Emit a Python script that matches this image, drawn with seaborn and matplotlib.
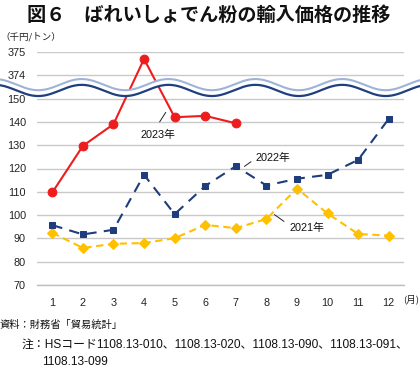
import numpy as np
import pandas as pd
import matplotlib
matplotlib.use("Agg")
import matplotlib.pyplot as plt
import seaborn as sns

# ---- data ----
months = [1, 2, 3, 4, 5, 6, 7, 8, 9, 10, 11, 12]
y2021 = [92.4, 85.9, 87.7, 88.0, 90.1, 95.8, 94.4, 98.3, 111.4, 100.7, 91.9, 91.2]
y2022 = [95.7, 91.7, 93.7, 117.3, 100.4, 112.5, 121.0, 112.7, 115.6, 117.3, 123.7, 141.3]
months_2023 = [1, 2, 3, 4, 5, 6, 7]
y2023 = [109.7, 129.7, 139.0, 374.7, 142.0, 142.6, 139.4]
ytick_labels = ["70", "80", "90", "100", "110", "120", "130", "140", "150", "374", "375"]
xtick_labels = [str(m) for m in months]

# broken-axis mapping: values >= 370 are drawn above the break
def brk(v):
    return 160 + (v - 374) * 10 if v >= 370 else v

sns.set_theme(style="white")
plt.rcParams["font.family"] = ["Liberation Sans", "Noto Sans CJK JP", "DejaVu Sans"]

fig = plt.figure(figsize=(4.2, 3.68), dpi=100)
ax = fig.add_axes([37 / 420, 1 - 285 / 368, (404 - 37) / 420, (285 - 52) / 368])

df21 = pd.DataFrame({"month": months, "val": [brk(v) for v in y2021]})
df22 = pd.DataFrame({"month": months, "val": [brk(v) for v in y2022]})
df23 = pd.DataFrame({"month": months_2023, "val": [brk(v) for v in y2023]})

red = "#ee1c1c"
navy = "#1f3d7c"
gold = "#ffc000"

sns.lineplot(data=df21, x="month", y="val", ax=ax, color=gold, lw=1.5,
             marker="D", markersize=5.5, markeredgecolor=gold, zorder=3)
ax.lines[-1].set_dashes([3.5, 2.2])
sns.lineplot(data=df22, x="month", y="val", ax=ax, color=navy, lw=1.5,
             marker="s", markersize=5, markeredgecolor=navy, zorder=3)
ax.lines[-1].set_dashes([5, 3.5])
sns.lineplot(data=df23, x="month", y="val", ax=ax, color=red, lw=1.5,
             marker="o", markersize=6.3, markeredgecolor=red, zorder=4)

ax.set_xlim(0.5, 12.5)
ax.set_ylim(70, 170)
ticks = list(range(70, 171, 10))
ax.set_yticks(ticks)
ax.set_yticklabels(ytick_labels)
ax.set_xticks(months)
ax.set_xticklabels(xtick_labels)
ax.set_xlabel("")
ax.set_ylabel("")
ax.tick_params(axis="y", length=0, pad=8, labelsize=7.8, colors="#222222")
ax.tick_params(axis="x", length=0, pad=9, labelsize=7.8, colors="#222222")
for t in ticks:
    ax.axhline(t, color="#c9c9c9", lw=1.0, zorder=1)
for s in ["left", "right", "top"]:
    ax.spines[s].set_visible(False)
ax.spines["bottom"].set_color("#bdbdbd")
ax.spines["bottom"].set_linewidth(1.0)

# wave (axis break marker)
xs = np.linspace(-0.75, 13.1, 600)
per = 2.84
phase = 0.54
wav = 2.4 * np.cos(2 * np.pi * (xs - phase) / per)
dark = 153.5 - wav
light = 156.0 - wav
ax.fill_between(xs, dark, light, color="white", zorder=6, clip_on=False, lw=0)
ax.plot(xs, light, color="#9fb3d8", lw=1.5, zorder=7, clip_on=False)
ax.plot(xs, dark, color="#1f3f7f", lw=1.6, zorder=7, clip_on=False)

# annotations
lab_kw = dict(fontsize=7.8, color="#111111", ha="center", va="center")
ax.annotate("", xy=(4.76, 145.1), xytext=(4.46, 139.0),
            arrowprops=dict(arrowstyle="-", lw=0.7, color="#222222"))
ax.text(4.46, 134.4, "2023年", **lab_kw)
ax.annotate("", xy=(7.21, 120.2), xytext=(7.57, 123.6),
            arrowprops=dict(arrowstyle="-", lw=0.7, color="#222222"))
ax.text(8.22, 124.5, "2022年", **lab_kw)
ax.annotate("", xy=(8.19, 100.9), xytext=(8.65, 96.6),
            arrowprops=dict(arrowstyle="-", lw=0.7, color="#222222"))
ax.text(9.33, 94.5, "2021年", **lab_kw)

# titles & notes
jp = ["Noto Sans CJK JP", "DejaVu Sans"]
mix = ["Liberation Sans", "Noto Sans CJK JP", "DejaVu Sans"]
fig.text(209 / 420, 1 - 15 / 368, "図６　ばれいしょでん粉の輸入価格の推移", ha="center", va="center",
         fontsize=13.8, fontweight="bold", family=jp, color="#111111")
fig.text(0 / 420, 1 - 37 / 368, "（千円/トン）", ha="left", va="center", fontsize=6.8,
         family=jp, color="#222222")
fig.text(403 / 420, 1 - 299 / 368, "(月)", ha="left", va="center", fontsize=6.8,
         family=jp, color="#222222")
fig.text(0 / 420, 1 - 325 / 368, "資料：財務省「貿易統計」", ha="left", va="center", fontsize=7.4,
         family=jp, color="#111111")
fig.text(22 / 420, 1 - 345 / 368, "注：HSコード1108.13-010、1108.13-020、1108.13-090、1108.13-091、",
         ha="left", va="center", fontsize=8.55, family=mix, color="#111111")
fig.text(42 / 420, 1 - 362 / 368, "1108.13-099", ha="left", va="center", fontsize=8.55,
         family=mix, color="#111111")

fig.savefig("out.png", dpi=100)
